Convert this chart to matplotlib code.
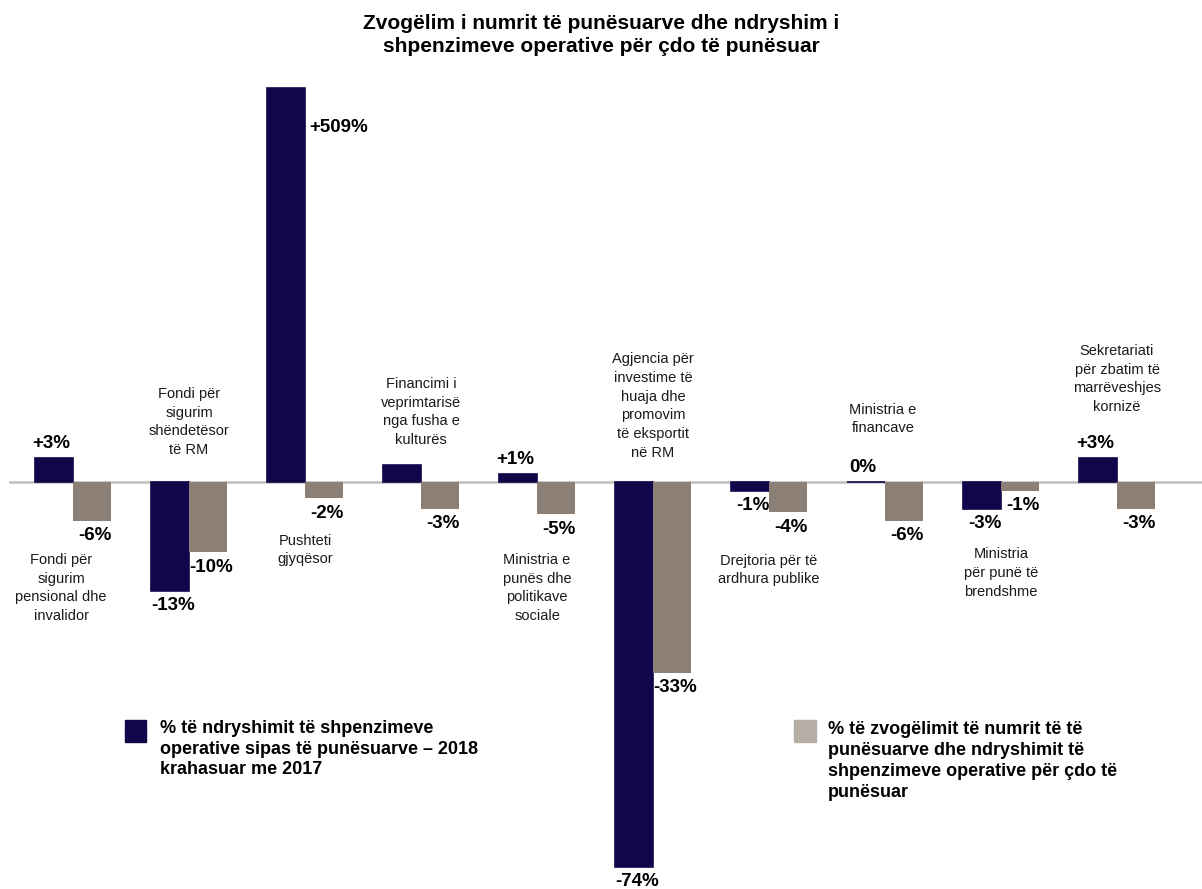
import numpy as np
import matplotlib
matplotlib.use("Agg")
import matplotlib.pyplot as plt
from matplotlib import font_manager

# ---------------- data ----------------
categories = [
    "Fondi për\nsigurim\npensional dhe\ninvalidor",
    "Fondi për\nsigurim\nshëndetësor\ntë RM",
    "Pushteti\ngjyqësor",
    "Financimi i\nveprimtarisë\nnga fusha e\nkulturës",
    "Ministria e\npunës dhe\npolitikave\nsociale",
    "Agjencia për\ninvestime të\nhuaja dhe\npromovim\ntë eksportit\nnë RM",
    "Drejtoria për të\nardhura publike",
    "Ministria e\nfinancave",
    "Ministria\npër punë të\nbrendshme",
    "Sekretariati\npër zbatim të\nmarrëveshjes\nkornizë",
]
# % change of operating expenses per employee, 2018 vs 2017
opex_change = [3, -13, 509, 2, 1, -74, -1, 0, -3, 3]
opex_labels = ["+3%", "-13%", "+509%", "", "+1%", "-74%", "-1%", "0%", "-3%", "+3%"]
# % reduction of employees and change of operating expenses per employee
emp_change = [-6, -10, -2, -3, -5, -33, -4, -6, -1, -3]
emp_labels = ["-6%", "-10%", "-2%", "-3%", "-5%", "-33%", "-4%", "-6%", "-1%", "-3%"]

title = "Zvogëlim i numrit të punësuarve dhe ndryshim i\nshpenzimeve operative për çdo të punësuar"
legend1 = "% të ndryshimit të shpenzimeve\noperative sipas të punësuarve – 2018\nkrahasuar me 2017"
legend2 = "% të zvogëlimit të numrit të të\npunësuarve dhe ndryshimit të\nshpenzimeve operative për çdo të\npunësuar"

# ------------- non-linear (not-to-scale) axis, as in the original -------------
scale_vals = np.array([-200, -74, -33, -13, -10, -6, -5, -4, -3, -2, -1, 0, 1, 2, 3, 509, 1000], float)
scale_disp = np.array([-1000, -385, -191, -109, -70, -39, -32, -30, -27, -16, -9, 0, 8, 17, 24, 394, 1000], float)

def fwd(v):
    return np.interp(v, scale_vals, scale_disp)

def inv(d):
    return np.interp(d, scale_disp, scale_vals)

DARK = "#13054a"
GRAY = "#8c8076"
GRAY_LEG = "#b6ada5"

avail = {f.name for f in font_manager.fontManager.ttflist}
BASE = "Liberation Sans" if "Liberation Sans" in avail else "DejaVu Sans"
NARROW = "Liberation Sans Narrow" if "Liberation Sans Narrow" in avail else BASE
plt.rcParams["font.family"] = [BASE, "DejaVu Sans"]

W, H = 1202, 889
fig = plt.figure(figsize=(W / 100, H / 100), dpi=100)
ax = fig.add_axes([0, 0, 1, 1])
ax.set_yscale("function", functions=(fwd, inv))

x0_px, step_px, base_px = 73.0, 116.0, 482.0
ax.set_xlim(-x0_px / step_px, (W - x0_px) / step_px)
ax.set_ylim(inv(-(H - base_px)), inv(base_px))
ax.axis("off")

x = np.arange(len(categories))
bw = 38 / step_px
ax.axhline(0, xmin=10 / W, xmax=1, color="#bfbfbf", lw=1.8, zorder=1)
ax.bar(x - bw / 2, opex_change, width=bw, color=DARK, edgecolor=DARK, linewidth=1.2, zorder=2)
ax.bar(x + bw / 2, emp_change, width=bw, color=GRAY, linewidth=0, zorder=2)

vfont = dict(fontsize=13.5, fontweight="bold", color="black", family=[BASE, "DejaVu Sans"])

def put_value(xc, val, lab, special=None):
    if not lab:
        return
    if special == "right_top":
        ax.annotate(lab, (xc + bw / 2, val), xytext=(4, -40), textcoords="offset pixels",
                    ha="left", va="center", **vfont)
    elif val > 0 or lab == "0%":
        ax.annotate(lab, (xc, val), xytext=(-3, 14), textcoords="offset pixels",
                    ha="center", va="center", **vfont)
    else:
        ax.annotate(lab, (xc, val), xytext=(3, -15), textcoords="offset pixels",
                    ha="center", va="center", **vfont)

for i in range(len(categories)):
    put_value(x[i] - bw / 2, opex_change[i], opex_labels[i],
              "right_top" if opex_change[i] > 100 else None)
    put_value(x[i] + bw / 2, emp_change[i], emp_labels[i])

# category label placement (pixel offsets from each group's centre on the baseline)
cat_offsets = [(-12, -106), (0, 60), (0, -68), (0, 70), (0, -106),
               (0, 76), (0, -88), (-2, 63), (0, -91), (0, 103)]
for i, lab in enumerate(categories):
    dx, dy = cat_offsets[i]
    ax.annotate(lab, (x[i], 0), xytext=(dx, dy), textcoords="offset pixels",
                ha="center", va="center", fontsize=10.5, color="#1a1a1a",
                family=[NARROW, "DejaVu Sans"], linespacing=1.45)

fig.text(0.5, 1 - 35 / H, title, ha="center", va="center", fontsize=15,
         fontweight="bold", linespacing=1.33)

# legend
fig.patches.append(plt.Rectangle((125 / W, 1 - 742 / H), 21 / W, 22 / H,
                                 transform=fig.transFigure, color=DARK))
fig.text(160 / W, 1 - 749 / H, legend1, ha="left", va="center", fontsize=13,
         fontweight="bold", linespacing=1.3)
fig.patches.append(plt.Rectangle((794 / W, 1 - 742 / H), 22 / W, 22 / H,
                                 transform=fig.transFigure, color=GRAY_LEG))
fig.text(828 / W, 1 - 761 / H, legend2, ha="left", va="center", fontsize=13,
         fontweight="bold", linespacing=1.3)

fig.savefig("out.png", dpi=100)
